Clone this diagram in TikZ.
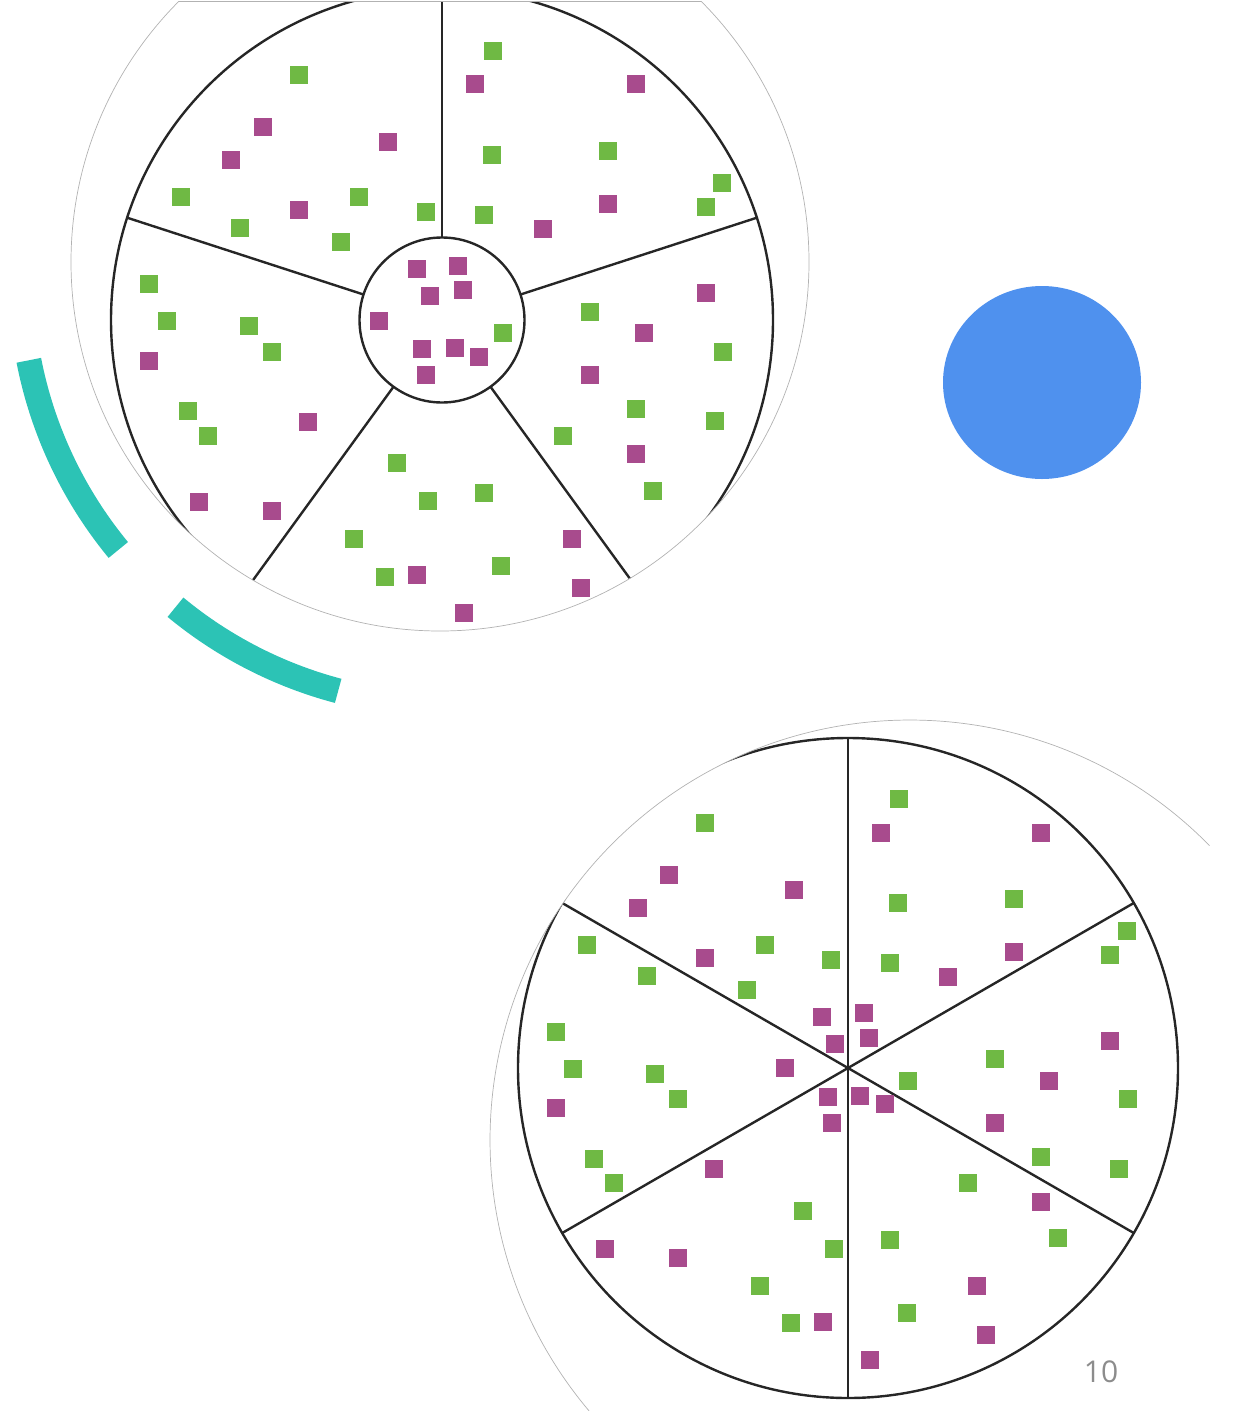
\documentclass[tikz,border=0pt]{standalone}
\usepackage{fontspec}
\newfontfamily\numfont{Open Sans}
\definecolor{sqgreen}{RGB}{111,185,68}
\definecolor{sqmag}{RGB}{168,75,141}
\definecolor{bandteal}{RGB}{44,195,181}
\definecolor{dotblue}{RGB}{79,145,238}
\definecolor{pieline}{RGB}{38,38,38}
\definecolor{pagegray}{RGB}{140,140,140}
\begin{document}
\begin{tikzpicture}[x=1pt,y=1pt,
  gsq/.style={fill=sqgreen},
  msq/.style={fill=sqmag},
  pie/.style={draw=pieline,line width=2.4pt},
  clipline/.style={draw=black!30,line width=0.7pt},
  band/.style={draw=bandteal,line width=25pt}]
\useasboundingbox (0,0) rectangle (1236,-1411);
\clip (0,0) rectangle (1236,-1411);

% ---------- top pie ----------
\begin{scope}
  \clip (440,-262) circle[radius=369];
  \clip (0,-1.5) rectangle (1236,-700);
  \draw[pie] (442,-320) circle[radius=331];
  \draw[pie] (442,-320) circle[radius=82.5];
  \foreach \a in {90,162,234,306,18}
    \draw[pie,shift={(442,-320)}] (\a:82.5) -- (\a:331);
  \foreach \x/\y in {299/75,181/197,359/197,426/212,240/228,341/242,149/284,167/321,
      249/326,272/352,188/411,208/436,397/463,428/501,354/539,385/577,484/493,501/566,
      493/51,492/155,608/151,722/183,706/207,484/215,590/312,723/352,636/409,715/421,
      563/436,653/491,503/333}
    \fill[gsq] (\x-9,-\y-9) rectangle (\x+9,-\y+9);
  \foreach \x/\y in {263/127,388/142,231/160,299/210,149/361,308/422,199/502,272/511,
      417/575,464/613,475/84,636/84,608/204,543/229,706/293,644/333,590/375,636/454,
      572/539,581/588,417/269,458/266,430/296,463/290,379/321,422/349,455/348,479/357,426/375}
    \fill[msq] (\x-9,-\y-9) rectangle (\x+9,-\y+9);
\end{scope}
\begin{scope}
  \clip (0,-1.5) rectangle (1236,-700);
  \draw[clipline] (440,-262) circle[radius=369];
\end{scope}
\draw[clipline] (178.7,-1.5) -- (701.3,-1.5);

% ---------- bottom pie ----------
\begin{scope}
  \clip (910,-1140) circle[radius=420];
  \clip (0,-700) rectangle (1210,-1411);
  \draw[pie] (848,-1068) circle[radius=330];
  \foreach \a in {90,150,210}
    \draw[pie,shift={(848,-1068)}] (\a:330) -- (\a+180:330);
  \foreach \x/\y in {705/823,587/945,765/945,831/960,647/976,747/990,556/1032,573/1069,
      655/1074,678/1099,594/1159,614/1183,803/1211,834/1249,760/1286,791/1323,899/799,
      898/903,1014/899,1127/931,1110/955,890/963,995/1059,908/1081,1128/1099,1041/1157,
      1119/1169,968/1183,890/1240,1058/1238,907/1313}
    \fill[gsq] (\x-9,-\y-9) rectangle (\x+9,-\y+9);
  \foreach \x/\y in {669/875,794/890,638/908,705/958,822/1017,835/1044,785/1068,556/1108,
      828/1097,832/1123,714/1169,605/1249,678/1258,823/1322,881/833,1041/833,1014/952,
      948/977,864/1013,869/1038,1110/1041,1049/1081,860/1096,885/1104,995/1123,1041/1202,
      977/1286,986/1335,870/1360}
    \fill[msq] (\x-9,-\y-9) rectangle (\x+9,-\y+9);
\end{scope}
\draw[clipline] ([shift={(44.5:420)}]910,-1140) arc[start angle=44.5,end angle=220.2,radius=420];

% ---------- teal bands ----------
\draw[band] ([shift={(191:426)}]447,-279) arc[start angle=191,end angle=219.5,radius=426];
\draw[band] ([shift={(230.4:426)}]447,-279) arc[start angle=230.4,end angle=255.2,radius=426];

% ---------- blue dot ----------
\fill[dotblue] (1042,-382.5) ellipse[x radius=99,y radius=96.5];

% ---------- page number ----------
\node[text=pagegray,font=\numfont\fontsize{30}{36}\selectfont,inner sep=0pt] (pagenum) at (1101,-1372) {10};
\end{tikzpicture}
\end{document}
